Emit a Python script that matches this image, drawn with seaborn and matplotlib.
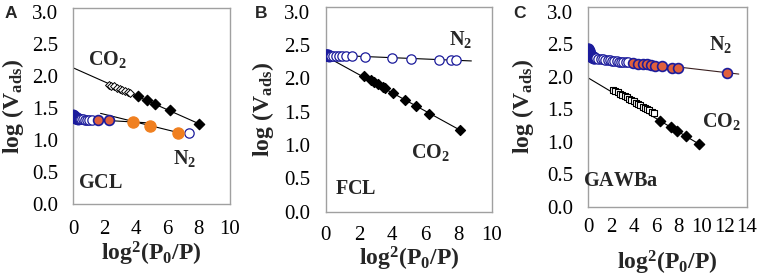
import numpy as np
import pandas as pd
import matplotlib
matplotlib.use("Agg")
import matplotlib.pyplot as plt
import seaborn as sns

sns.set_style("white")
plt.rcParams['font.family'] = ['Liberation Serif', 'DejaVu Serif']
plt.rcParams['mathtext.fontset'] = 'custom'
plt.rcParams['mathtext.rm'] = 'Liberation Serif:bold'
plt.rcParams['mathtext.it'] = 'Liberation Serif:bold'
plt.rcParams['mathtext.bf'] = 'Liberation Serif:bold'
plt.rcParams['mathtext.default'] = 'rm'

# ---- panel A (GCL) ----
a_co2_open_x = [2.25, 2.42, 2.6, 2.78, 2.95, 3.12, 3.3, 3.48, 3.62]
a_co2_open_y = [1.87, 1.85, 1.84, 1.82, 1.80, 1.79, 1.77, 1.76, 1.74]
a_co2_fill_x = [4.1, 4.71, 5.24, 6.18, 8.0]
a_co2_fill_y = [1.69, 1.63, 1.57, 1.48, 1.26]
a_co2_line_x = [0.0, 8.0]
a_co2_line_y = [2.13, 1.26]
a_n2_fill_x = [0.0, 0.02, 0.05, 0.08, 0.12, 0.17, 0.23, 0.3]
a_n2_fill_y = [1.39, 1.38, 1.37, 1.36, 1.35, 1.345, 1.34, 1.335]
a_n2_open_x = [0.42, 0.52, 0.63, 0.75, 0.88, 1.02, 1.18, 7.4]
a_n2_open_y = [1.33, 1.33, 1.325, 1.32, 1.32, 1.32, 1.315, 1.12]
a_n2_red_x = [1.55, 2.25]
a_n2_red_y = [1.31, 1.31]
a_n2_orange_x = [3.8, 4.9, 6.7]
a_n2_orange_y = [1.28, 1.23, 1.12]
a_n2_line1_x = [0.0, 4.9]
a_n2_line1_y = [1.34, 1.27]
a_n2_line2_x = [1.74, 6.7]
a_n2_line2_y = [1.42, 1.12]

# ---- panel B (FCL) ----
b_n2_fill_x = [0.0, 0.03, 0.07, 0.12, 0.18]
b_n2_fill_y = [2.35, 2.35, 2.345, 2.345, 2.34]
b_n2_open_x = [0.3, 0.45, 0.6, 0.78, 0.98, 1.2, 1.56, 2.36, 3.96, 5.12, 6.82, 7.56, 7.86]
b_n2_open_y = [2.34, 2.34, 2.335, 2.335, 2.33, 2.33, 2.33, 2.32, 2.31, 2.29, 2.28, 2.27, 2.27]
b_n2_line_x = [0.0, 8.76]
b_n2_line_y = [2.35, 2.26]
b_co2_x = [2.32, 2.7, 2.92, 3.12, 3.46, 3.56, 4.06, 4.78, 5.4, 6.2, 8.1]
b_co2_y = [2.03, 1.98, 1.95, 1.92, 1.87, 1.85, 1.78, 1.67, 1.58, 1.47, 1.22]
b_co2_line_x = [0.0, 8.1]
b_co2_line_y = [2.33, 1.22]

# ---- panel C (GAWBa) ----
c_n2_fill_x = [0.0, 0.02, 0.05, 0.1, 0.15, 0.22, 0.3, 0.4, 0.5]
c_n2_fill_y = [2.42, 2.40, 2.38, 2.36, 2.34, 2.32, 2.31, 2.30, 2.29]
c_n2_open_x = [0.7, 0.9, 1.1, 1.3, 1.5, 1.7, 1.9, 2.1, 2.3, 2.5, 2.7, 2.9, 3.1, 3.3, 3.5]
c_n2_open_y = [2.28, 2.275, 2.27, 2.265, 2.26, 2.255, 2.25, 2.245, 2.24, 2.235, 2.23, 2.23, 2.225, 2.22, 2.22]
c_n2_red_x = [3.98, 4.42, 4.81, 5.16, 5.52, 5.9, 6.49, 7.37, 7.96, 12.24]
c_n2_red_y = [2.21, 2.2, 2.19, 2.19, 2.18, 2.17, 2.16, 2.14, 2.13, 2.06]
c_n2_line_x = [0.0, 13.3]
c_n2_line_y = [2.31, 2.04]
c_co2_open_x = [2.2, 2.4, 2.6, 2.8, 3.0, 3.2, 3.4, 3.6, 3.8, 4.0, 4.2, 4.4, 4.6, 4.8, 5.0, 5.2, 5.4, 5.6, 5.8]
c_co2_open_y = [1.80, 1.78, 1.76, 1.74, 1.72, 1.70, 1.68, 1.66, 1.64, 1.62, 1.60, 1.58, 1.56, 1.54, 1.52, 1.50, 1.48, 1.46, 1.44]
c_co2_fill_x = [6.35, 7.32, 7.88, 8.65, 9.82]
c_co2_fill_y = [1.32, 1.23, 1.17, 1.09, 0.97]
c_co2_line_x = [0.0, 9.82]
c_co2_line_y = [1.98, 0.96]

navy = '#1c1c9c'
orange = '#f08020'
redor = '#e0603c'

fig = plt.figure(figsize=(7.58, 2.78), dpi=100)
W, H = 758, 278

def make_axes(left, right, bottom_px, top_px):
    return fig.add_axes([left / W, 1 - bottom_px / H, (right - left) / W, (bottom_px - top_px) / H])

axA = make_axes(73.3, 230, 204.3, 7.7)
axB = make_axes(325.7, 492, 211.7, 6.9)
axC = make_axes(588.3, 746.7, 206.7, 7.1)

def line(ax, x, y, color='black'):
    sns.lineplot(x=x, y=y, ax=ax, color=color, linewidth=0.8, sort=False, legend=False)

def pts(ax, x, y, marker, size, face, edge, lw=0.9):
    sns.scatterplot(x=x, y=y, ax=ax, marker=marker, s=size, color=face,
                    edgecolor=edge, linewidth=lw, legend=False, zorder=3)

# A
line(axA, a_co2_line_x, a_co2_line_y)
line(axA, a_n2_line1_x, a_n2_line1_y)
line(axA, a_n2_line2_x, a_n2_line2_y)
pts(axA, a_co2_open_x, a_co2_open_y, 'D', 16, 'white', 'black', 0.7)
pts(axA, a_co2_fill_x, a_co2_fill_y, 'D', 28, 'black', 'black')
pts(axA, a_n2_fill_x, a_n2_fill_y, 'o', 60, navy, navy)
pts(axA, a_n2_open_x, a_n2_open_y, 'o', 45, 'white', navy)
pts(axA, a_n2_red_x, a_n2_red_y, 'o', 50, redor, navy, 1.2)
pts(axA, a_n2_orange_x, a_n2_orange_y, 'o', 65, orange, orange)

# B
line(axB, b_n2_line_x, b_n2_line_y)
line(axB, b_co2_line_x, b_co2_line_y)
pts(axB, b_co2_x, b_co2_y, 'D', 26, 'black', 'black')
pts(axB, b_n2_fill_x, b_n2_fill_y, 'o', 60, navy, navy)
pts(axB, b_n2_open_x, b_n2_open_y, 'o', 45, 'white', navy)

# C
line(axC, c_n2_line_x, c_n2_line_y, '#3a2020')
line(axC, c_co2_line_x, c_co2_line_y)
pts(axC, c_co2_open_x, c_co2_open_y, 's', 14, 'white', 'black', 0.8)
pts(axC, c_co2_fill_x, c_co2_fill_y, 'D', 28, 'black', 'black')
pts(axC, c_n2_fill_x, c_n2_fill_y, 'o', 65, navy, navy)
pts(axC, c_n2_open_x, c_n2_open_y, 'o', 45, 'white', navy)
pts(axC, c_n2_red_x, c_n2_red_y, 'o', 50, redor, navy, 1.2)

ylab = r'$\mathrm{log\ (V_{ads})}$'
xlab = r'$\mathrm{log^{2}(P_{0}/P)}$'
specs = [
    (axA, 10, 2, -0.383, -0.250, 11),
    (axB, 10, 2, -0.377, -0.232, 10),
    (axC, 14, 2, -0.415, -0.282, 8),
]
for ax, xmax, xstep, ylx, xly, xpad in specs:
    ax.set_xlim(0, xmax)
    ax.set_ylim(0, 3.07)
    ax.set_xticks(np.arange(0, xmax + 0.1, xstep))
    ax.set_yticks(np.arange(0, 3.01, 0.5))
    ax.set_yticklabels([f'{v:.1f}' for v in np.arange(0, 3.01, 0.5)])
    ax.tick_params(axis='both', direction='in', length=4, width=0.8, color='#a0a0a0',
                   labelsize=15, labelcolor='black')
    ax.tick_params(axis='y', pad=11)
    ax.tick_params(axis='x', pad=xpad)
    for s in ax.spines.values():
        s.set_color('#a0a0a0')
        s.set_linewidth(1.0)
    ax.set_xlabel(xlab, fontsize=17)
    ax.set_ylabel(ylab, fontsize=17)
    ax.xaxis.set_label_coords(0.5, xly)
    ax.yaxis.set_label_coords(ylx, 0.5)
    ax.xaxis.label.set_verticalalignment('center')
    ax.yaxis.label.set_verticalalignment('center')

ann = dict(fontsize=14.5, ha='center', va='center')
axA.text(2.2, 2.26, r'$\mathrm{CO_{2}}$', **ann)
axA.text(7.1, 0.72, r'$\mathrm{N_{2}}$', **ann)
axA.text(1.7, 0.33, r'$\mathrm{GCL}$', **ann)
axB.text(8.1, 2.58, r'$\mathrm{N_{2}}$', **ann)
axB.text(6.3, 0.88, r'$\mathrm{CO_{2}}$', **ann)
axB.text(1.8, 0.33, r'$\mathrm{FCL}$', **ann)
axC.text(11.65, 2.49, r'$\mathrm{N_{2}}$', **ann)
axC.text(11.8, 1.31, r'$\mathrm{CO_{2}}$', **ann)
axC.text(2.9, 0.38, r'$\mathrm{GAWBa}$', **ann)

for lx, txt in [(11, 'A'), (261, 'B'), (519, 'C')]:
    fig.text(lx / W, 1 - 13 / H, txt, fontsize=12.5, fontweight='bold',
             family='Liberation Sans', ha='center', va='center')

fig.savefig('out.png', dpi=100)
